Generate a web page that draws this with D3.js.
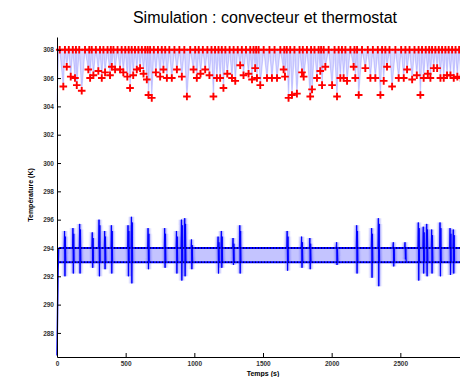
<!DOCTYPE html>
<html><head><meta charset="utf-8">
<script src="https://cdn.jsdelivr.net/npm/d3@7"></script>
<style>
html,body{margin:0;padding:0;background:#fff;overflow:hidden}
text{font-family:"Liberation Sans",Arial,sans-serif}
</style></head>
<body><svg id="c" width="460" height="377"></svg>
<script>
// ---------- data ----------
const title = "Simulation : convecteur et thermostat";
const xLabel = "Temps (s)";
const yLabel = "Température (K)";
const xTicks = [0, 500, 1000, 1500, 2000, 2500];
const yTicks = [288, 290, 292, 294, 296, 298, 300, 302, 304, 306, 308];
const convMax = 308;
const thermoHigh = 294;
const thermoLow = 293;
// convector: start of the run
const convStart = [[0, 304.3], [6, 306.0], [12, 308]];
// convector: times of the maxima (at 308 K)
const convPeakTimes = [20, 58, 86, 115, 138, 162, 204, 235, 253, 283, 313, 338, 368, 392, 411, 441, 471, 497, 522, 544, 568, 593, 618, 642, 660, 678, 705, 735, 763, 788, 818, 855, 891, 927, 970, 1006, 1032, 1062, 1095, 1125, 1151, 1176, 1200, 1226, 1257, 1286, 1316, 1346, 1376, 1407, 1431, 1450, 1468, 1505, 1547, 1584, 1626, 1655, 1673, 1698, 1729, 1766, 1790, 1820, 1850, 1875, 1905, 1923, 1942, 1978, 2021, 2051, 2075, 2100, 2136, 2166, 2185, 2221, 2263, 2300, 2336, 2367, 2391, 2421, 2464, 2506, 2537, 2567, 2603, 2633, 2658, 2685, 2710, 2731, 2755, 2780, 2804, 2828, 2852, 2877, 2902, 2928, 2950, 2975];
// convector: minima (time s, temperature K)
const convTroughs = [[46, 305.4], [71, 306.8], [100, 306.1], [131, 306.0], [144, 305.5], [180, 305.1], [228, 306.6], [241, 306.0], [265, 306.2], [301, 306.5], [326, 306.0], [350, 306.4], [386, 306.2], [399, 306.8], [423, 306.6], [459, 306.6], [483, 306.4], [512, 306.1], [532, 305.3], [555, 306.2], [581, 306.6], [605, 306.7], [630, 306.3], [654, 305.9], [666, 304.8], [690, 304.6], [720, 306.4], [751, 306.1], [775, 306.6], [800, 306.0], [836, 306.0], [873, 306.6], [909, 306.1], [946, 304.7], [994, 306.6], [1018, 306.0], [1045, 306.3], [1079, 306.6], [1110, 306.2], [1139, 304.7], [1164, 306.0], [1188, 306.0], [1212, 305.3], [1240, 306.3], [1274, 306.0], [1298, 305.8], [1334, 306.9], [1358, 306.2], [1395, 306.3], [1420, 305.9], [1443, 306.7], [1456, 306.0], [1480, 305.5], [1529, 306.0], [1565, 306.0], [1602, 306.0], [1650, 306.6], [1660, 306.1], [1686, 304.6], [1711, 304.8], [1747, 304.9], [1784, 306.4], [1796, 306.1], [1844, 304.7], [1857, 305.2], [1893, 306.0], [1917, 306.5], [1930, 305.5], [1954, 306.8], [2003, 305.5], [2039, 304.7], [2063, 306.0], [2087, 306.0], [2112, 305.8], [2160, 306.8], [2172, 306.0], [2197, 304.8], [2245, 306.7], [2282, 306.0], [2318, 306.0], [2355, 304.8], [2379, 305.8], [2403, 306.8], [2440, 305.4], [2488, 306.0], [2525, 306.0], [2549, 306.6], [2586, 305.9], [2620, 306.2], [2646, 304.8], [2670, 306.0], [2700, 306.3], [2719, 306.0], [2743, 306.7], [2768, 306.7], [2792, 306.0], [2816, 306.0], [2840, 306.2], [2865, 306.2], [2889, 306.0], [2915, 306.1], [2940, 306.0], [2962, 306.3]];
// room temperature: start of the run
const roomStart = [[0, 286.4], [4, 289.5], [8, 292.5], [12, 294]];
// room temperature: bursts (time s, max K, min K)
const roomBursts = [[58, 295.2, 292.0], [119, 295.4, 292.2], [168, 295.7, 292.2], [260, 295.1, 292.6], [309, 296.0, 292.0], [350, 295.2, 292.5], [399, 295.6, 292.2], [520, 295.6, 292.0], [545, 296.2, 291.5], [666, 295.4, 292.5], [787, 295.4, 292.6], [873, 295.2, 292.2], [909, 296.0, 291.7], [933, 296.1, 292.0], [982, 294.6, 292.5], [1176, 294.8, 292.2], [1200, 295.2, 292.6], [1285, 294.7, 292.8], [1334, 295.6, 292.2], [1679, 295.2, 292.4], [1784, 294.8, 292.6], [1844, 294.7, 292.5], [2039, 294.4, 292.8], [2185, 295.6, 292.2], [2294, 295.4, 291.9], [2343, 296.1, 291.3], [2452, 294.4, 292.7], [2537, 294.4, 293.2], [2634, 295.8, 291.7], [2670, 295.5, 292.2], [2695, 295.7, 292.0], [2731, 295.3, 292.2], [2792, 295.8, 292.0], [2865, 295.4, 292.1], [2889, 295.3, 292.2]];

// ---------- chart ----------
const svg = d3.select("#c");
const defs = svg.append("defs");
defs.append("filter").attr("id", "soft").attr("x", "-200%").attr("width", "500%")
  .append("feGaussianBlur").attr("stdDeviation", "1.0 0.6");
const x = d3.scaleLinear([0, 3000], [57, 469]);
const y = d3.scaleLinear([286.3, 308.9], [357, 37]);
const line = d3.line().x(d => x(d[0])).y(d => y(d[1]));

// convector oscillation (thin blue, dense -> light)
const peaks = convPeakTimes.map(t => [t, convMax]);
const conv = convStart.concat(peaks, convTroughs).sort((a, b) => a[0] - b[0]);
const convArea = d3.area().x(d => x(d[0])).y0(y(convMax)).y1(d => y(d[1]));
svg.append("path").attr("d", convArea(conv)).attr("fill", "#0000ff").attr("fill-opacity", 0.15);
svg.append("path").attr("d", line(conv)).attr("fill", "none")
  .attr("stroke", "#0000ff").attr("stroke-opacity", 0.16).attr("stroke-width", 1.2);

// room temperature hysteresis band
const band = d3.area().x(d => x(d)).y0(y(thermoLow)).y1(y(thermoHigh));
svg.append("path").attr("d", band([12, 3000])).attr("fill", "#c4c4ff");
svg.append("path").attr("d", line(roomStart)).attr("fill", "none")
  .attr("stroke", "#0000ff").attr("stroke-width", 1.5);
[thermoHigh, thermoLow].forEach(v => {
  svg.append("path").attr("d", line([[12, v], [3000, v]])).attr("fill", "none")
    .attr("stroke", "#0000ff").attr("stroke-width", 2);
});
// bursts
const burst = b => [[b[0] - 6, thermoHigh], [b[0] - 3, b[1]], [b[0], b[2]], [b[0] + 3, b[1] - 0.4], [b[0] + 6, thermoLow]];
svg.append("g").attr("filter", "url(#soft)").selectAll("path").data(roomBursts).join("path")
  .attr("d", b => line(burst(b))).attr("fill", "none")
  .attr("stroke", "#3030ff").attr("stroke-opacity", 0.55).attr("stroke-width", 3);
svg.append("g").selectAll("path").data(roomBursts).join("path")
  .attr("d", b => line(burst(b))).attr("fill", "none")
  .attr("stroke", "#0000ff").attr("stroke-width", 1);
// thermostat thresholds (dotted)
[thermoHigh, thermoLow].forEach(v => {
  svg.append("path").attr("d", line([[0, v], [3000, v]])).attr("fill", "none")
    .attr("stroke", "#000").attr("stroke-width", 1).attr("stroke-dasharray", "1,2");
});

// red + markers
const marks = peaks.concat(convTroughs);
const cross = s => `M${-s},0H${s}M0,${-s}V${s}`;
svg.append("g").selectAll("path").data(marks).join("path")
  .attr("transform", d => `translate(${x(d[0])},${y(d[1])})`)
  .attr("d", cross(3.8)).attr("stroke", "#ff0000").attr("stroke-width", 1.9).attr("fill", "none");

// axes
const ax = svg.append("g").attr("transform", `translate(0,${y.range()[0]})`)
  .call(d3.axisBottom(x).tickValues(xTicks).tickSizeInner(-4).tickSizeOuter(0).tickPadding(4).tickFormat(d3.format("d")));
const ay = svg.append("g").attr("transform", `translate(${x.range()[0]},0)`)
  .call(d3.axisLeft(y).tickValues(yTicks).tickSizeInner(-4).tickSizeOuter(0).tickPadding(3).tickFormat(d3.format("d")));
[ax, ay].forEach(a => {
  a.selectAll("text").attr("font-size", 6.5).attr("font-weight", "bold").attr("fill", "#333")
    .style("font-family", "Liberation Sans, Arial, sans-serif");
  a.selectAll("line,path").attr("stroke", "#000");
});

svg.append("text").attr("x", 265).attr("y", 23).attr("text-anchor", "middle")
  .attr("font-size", 16).text(title);
svg.append("text").attr("x", 263).attr("y", 376).attr("text-anchor", "middle")
  .attr("font-size", 7).attr("font-weight", "bold").text(xLabel);
svg.append("text").attr("transform", "translate(33,195) rotate(-90)").attr("text-anchor", "middle")
  .attr("font-size", 7).attr("font-weight", "bold").text(yLabel);
</script></body></html>
